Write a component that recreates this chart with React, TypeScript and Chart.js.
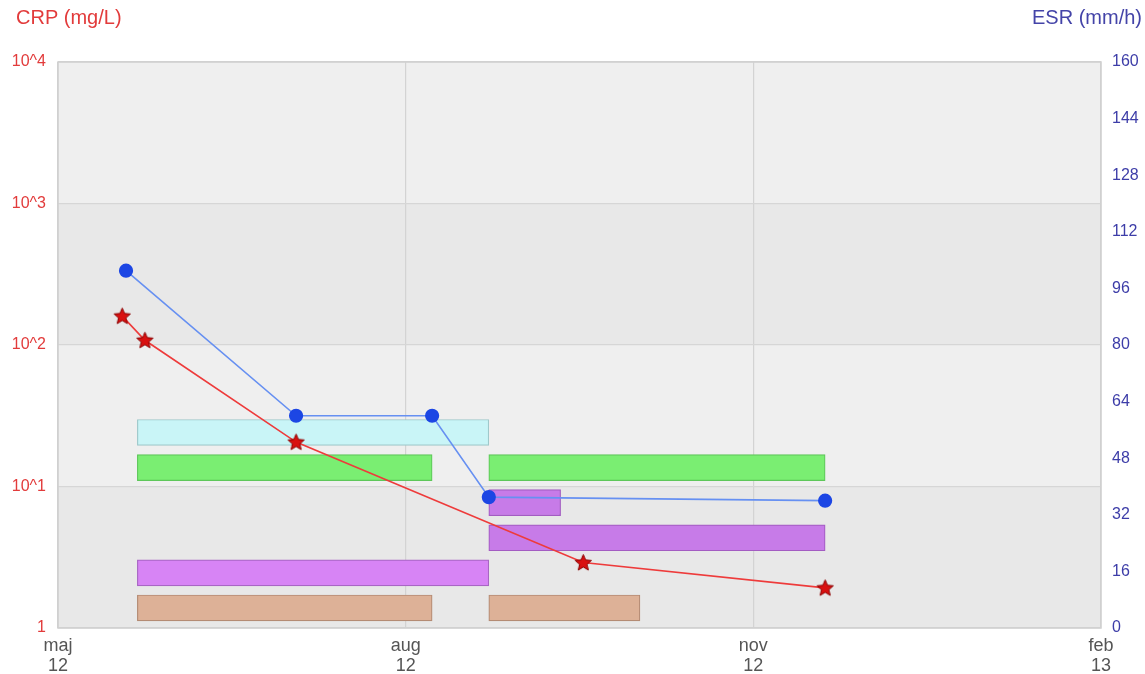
import React, { useEffect, useRef } from 'react';
import { Chart, registerables } from 'chart.js';

Chart.register(...registerables);

const FONT = '"Liberation Sans", Arial, Helvetica, sans-serif';

// Day numbers counted from 1 May 2012
const BASE = Date.UTC(2012, 4, 1);
const day = (s: string) =>
  Math.round((Date.UTC(+s.slice(0, 4), +s.slice(5, 7) - 1, +s.slice(8, 10)) - BASE) / 86400000);

const xTickDates = ['2012-05-01', '2012-08-01', '2012-11-01', '2013-02-01'];
const xTickLabels = [['maj', '12'], ['aug', '12'], ['nov', '12'], ['feb', '13']];

const esrDates = ['2012-05-19', '2012-07-03', '2012-08-08', '2012-08-23', '2012-11-20'];
const esrValues = [101, 60, 60, 37, 36];

const crpDates = ['2012-05-18', '2012-05-24', '2012-07-03', '2012-09-17', '2012-11-20'];
const crpValues = [160, 108, 20.6, 2.9, 1.92];

const crpTicks = [1, 10, 100, 1000, 10000];
const crpTickLabels = ['1', '10^1', '10^2', '10^3', '10^4'];

const esrStep = 16;

// Treatment bars (row 1 = bottom row)
const barRows = [6, 5, 5, 4, 3, 2, 1, 1];
const barStarts = ['2012-05-22', '2012-05-22', '2012-08-23', '2012-08-23', '2012-08-23', '2012-05-22', '2012-05-22', '2012-08-23'];
const barEnds = ['2012-08-23', '2012-08-08', '2012-11-20', '2012-09-11', '2012-11-20', '2012-08-23', '2012-08-08', '2012-10-02'];
const barFills = ['#c9f5f7', '#7aee72', '#7aee72', '#c77be8', '#c77be8', '#d784f5', '#ddb197', '#ddb197'];
const barBorders = ['#9fc9cb', '#5ec75a', '#5ec75a', '#a35cc2', '#a35cc2', '#a866c4', '#b48b74', '#b48b74'];

function makeStar(): HTMLCanvasElement {
  const c = document.createElement('canvas');
  c.width = 19;
  c.height = 19;
  const ctx = c.getContext('2d')!;
  const cx = 9.5, cy = 10, ro = 8.6, ri = 3.9;
  ctx.beginPath();
  for (let i = 0; i < 10; i++) {
    const r = i % 2 === 0 ? ro : ri;
    const a = -Math.PI / 2 + (i * Math.PI) / 5;
    const px = cx + r * Math.cos(a);
    const py = cy + r * Math.sin(a);
    if (i === 0) ctx.moveTo(px, py);
    else ctx.lineTo(px, py);
  }
  ctx.closePath();
  ctx.fillStyle = '#d91010';
  ctx.fill();
  ctx.strokeStyle = '#8a0000';
  ctx.lineWidth = 1;
  ctx.stroke();
  return c;
}

const bandPlugin = {
  id: 'bands',
  beforeDraw(chart: any) {
    const { ctx, chartArea } = chart;
    const y = chart.scales.crp;
    ctx.save();
    for (let i = 0; i < crpTicks.length - 1; i++) {
      const top = y.getPixelForValue(crpTicks[i + 1]);
      const bot = y.getPixelForValue(crpTicks[i]);
      ctx.fillStyle = i % 2 === 0 ? '#e8e8e8' : '#efefef';
      ctx.fillRect(chartArea.left, top, chartArea.right - chartArea.left, bot - top);
    }
    ctx.restore();
  },
  beforeDatasetsDraw(chart: any) {
    const { ctx, chartArea } = chart;
    ctx.save();
    ctx.strokeStyle = '#cfcfcf';
    ctx.lineWidth = 1.5;
    ctx.strokeRect(chartArea.left, chartArea.top, chartArea.right - chartArea.left, chartArea.bottom - chartArea.top);
    ctx.restore();
  },
  afterDraw(chart: any) {
    const { ctx } = chart;
    ctx.save();
    ctx.font = '20px ' + FONT;
    ctx.textBaseline = 'alphabetic';
    ctx.fillStyle = '#e23b3b';
    ctx.textAlign = 'left';
    ctx.fillText('CRP (mg/L)', 16, 24);
    ctx.fillStyle = '#4444a8';
    ctx.textAlign = 'right';
    ctx.fillText('ESR (mm/h)', 1142, 24);
    ctx.restore();
  },
};

export default function App() {
  const ref = useRef<HTMLCanvasElement>(null);
  useEffect(() => {
    document.body.style.margin = '0';
    Chart.defaults.font.family = FONT;
    const star = makeStar();
    const xTicks = xTickDates.map(day);
    const chart = new Chart(ref.current!, {
      type: 'line',
      data: {
        datasets: [
          {
            type: 'line',
            label: 'CRP',
            data: crpDates.map((d, i) => ({ x: day(d), y: crpValues[i] })),
            xAxisID: 'x',
            yAxisID: 'crp',
            borderColor: '#ee3b3b',
            borderWidth: 1.6,
            pointStyle: star as any,
            pointRadius: 8,
            tension: 0,
            order: 1,
          } as any,
          {
            type: 'line',
            label: 'ESR',
            data: esrDates.map((d, i) => ({ x: day(d), y: esrValues[i] })),
            xAxisID: 'x',
            yAxisID: 'esr',
            borderColor: '#6690f2',
            borderWidth: 1.6,
            pointBackgroundColor: '#1c46e4',
            pointBorderColor: '#1c46e4',
            pointRadius: 6.3,
            tension: 0,
            order: 2,
          } as any,
          {
            type: 'bar',
            label: 'Treatment',
            indexAxis: 'y',
            data: barRows.map((r, i) => ({ x: [day(barStarts[i]), day(barEnds[i])], y: r })),
            xAxisID: 'x',
            yAxisID: 'rows',
            backgroundColor: barFills,
            borderColor: barBorders,
            borderWidth: 1.2,
            borderSkipped: false,
            barThickness: 26,
            grouped: false,
            order: 5,
          } as any,
        ],
      },
      options: {
        responsive: false,
        animation: false,
        devicePixelRatio: 1,
        layout: { padding: { top: 62, left: 0, right: 0, bottom: 0 } },
        plugins: { legend: { display: false }, tooltip: { enabled: false }, title: { display: false } },
        scales: {
          x: {
            type: 'linear',
            offset: false,
            min: xTicks[0],
            max: xTicks[xTicks.length - 1],
            afterBuildTicks: (s: any) => {
              s.ticks = xTicks.map((v) => ({ value: v }));
            },
            afterFit: (s: any) => {
              s.height = 46;
            },
            ticks: {
              autoSkip: false,
              maxRotation: 0,
              padding: 8,
              color: '#555555',
              font: { size: 18, lineHeight: 1.12 },
              callback: (_v: any, i: number) => xTickLabels[i],
            },
            grid: { color: '#d3d3d3', lineWidth: 1.2, drawTicks: false, offset: false },
            border: { display: false },
          },
          crp: {
            type: 'logarithmic',
            position: 'left',
            min: crpTicks[0],
            max: crpTicks[crpTicks.length - 1],
            afterBuildTicks: (s: any) => {
              s.ticks = crpTicks.map((v) => ({ value: v }));
            },
            afterFit: (s: any) => {
              s.width = 58;
            },
            ticks: {
              autoSkip: false,
              padding: 12,
              color: '#e23b3b',
              font: { size: 16 },
              callback: (_v: any, i: number) => crpTickLabels[i],
            },
            grid: { color: '#d6d6d6', lineWidth: 1.2, drawTicks: false },
            border: { display: false },
          },
          esr: {
            type: 'linear',
            position: 'right',
            min: 0,
            max: 160,
            afterFit: (s: any) => {
              s.width = 44;
            },
            ticks: { stepSize: esrStep, padding: 11, color: '#3d3da8', font: { size: 16 } },
            grid: { display: false, drawTicks: false },
            border: { display: false },
          },
          rows: {
            type: 'linear',
            axis: 'y',
            position: 'left',
            display: false,
            offset: false,
            beginAtZero: false,
            grace: 0,
            min: 0.43,
            max: 16.555,
            grid: { offset: false },
          },
        } as any,
      },
      plugins: [bandPlugin],
    });
    return () => chart.destroy();
  }, []);
  return (
    <div style={{ position: 'relative', width: 1145, height: 674 }}>
      <canvas ref={ref} width={1145} height={674} style={{ display: 'block' }} />
    </div>
  );
}
